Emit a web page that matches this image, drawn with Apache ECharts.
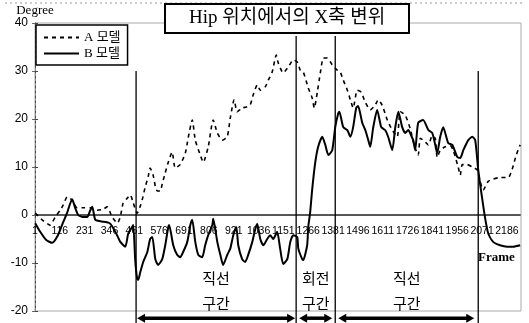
<!DOCTYPE html>
<html><head><meta charset="utf-8">
<script src="https://cdn.jsdelivr.net/npm/echarts@6/dist/echarts.min.js"></script>
<style>html,body{margin:0;padding:0;background:#fff}#c{width:529px;height:323px}</style>
</head><body><div id="c"></div>
<script>
const frameTicks = ['1','116','231','346','461','576','691','806','921','1036','1151','1266','1381','1496','1611','1726','1841','1956','2071','2186'];
const yTicks = [-20,-10,0,10,20,30,40];
const seriesNames = ['A 모델','B 모델'];

const aFrames = [1,33,70,94,117,131,149,172,195,223,256,288,316,334,357,381,395,408,427,441,455,473,487,496,510,524,533,547,557,566,580,589,603,617,635,649,672,696,709,728,742,765,779,802,825,844,867,890,904,922,936,959,978,996,1010,1029,1043,1066,1080,1098,1117,1126,1149,1172,1196,1214,1228,1242,1265,1283,1293,1307,1321,1335,1353,1376,1399,1413,1427,1446,1460,1473,1492,1510,1529,1552,1575,1589,1607,1631,1654,1677,1691,1714,1737,1756,1774,1784,1807,1821,1839,1853,1862,1876,1899,1922,1936,1959,1969,1978,2001,2024,2047,2061,2075,2098,2121,2153,2191,2209,2228,2246];
const aValues = [0.4,-1,-2.1,-0.4,1,2.1,3.8,3.1,1.5,1.5,1.5,1,1.2,1.7,-0.4,-1.7,-0.4,2.5,3.5,4.2,2.5,0.4,1.8,3.1,5.8,8,9.8,8.3,6,5,5,6.5,8.8,11,13.1,9.8,10.5,12.9,16,19.8,15.6,12.5,11,14.2,19.8,17.1,15.6,16.3,20.2,24,21.5,22.3,22.5,22.9,25,27.1,26,26.7,28.1,29.8,33.3,31.7,29.6,30.8,32.3,31.9,30.2,29.8,26.5,24.4,22.3,25.6,29.6,32.7,32.7,31.3,30.2,29.8,28.1,26,24,22.3,26,25.6,23.5,21.9,22.9,24,22.9,19.8,17.7,16.3,21.5,20.8,18,14.5,12.5,16,15.2,14.6,16.5,16,12,13.5,14.2,14.5,13.5,10,8.3,10.5,10.5,10,9.4,7,5.2,7,7.5,7.8,7.8,9.5,12.5,14.6];

const bFrames = [1,24,52,80,103,126,149,172,186,200,219,242,256,265,279,302,334,348,362,381,395,418,432,450,455,464,473,478,487,501,520,533,543,557,570,589,603,617,621,640,658,672,686,705,719,728,742,756,774,788,802,821,825,844,858,871,890,904,918,932,941,959,973,987,1006,1020,1029,1043,1057,1075,1089,1103,1121,1135,1149,1168,1182,1196,1214,1219,1237,1242,1260,1265,1274,1283,1297,1311,1330,1344,1358,1376,1390,1404,1409,1427,1446,1460,1473,1487,1496,1515,1529,1543,1552,1566,1584,1603,1621,1635,1654,1668,1682,1700,1714,1728,1742,1751,1760,1774,1797,1821,1839,1853,1862,1876,1890,1913,1932,1955,1969,1983,2006,2024,2038,2052,2070,2084,2098,2121,2153,2186,2214,2246];
const bValues = [-1.7,-3.5,-5.2,-5.8,-4.5,-2,0.5,3.3,1.5,0,-0.4,-0.4,1.0,1.7,-1,-1.3,-1.5,-1.8,-2.7,-4.3,-5.6,-6.6,-3.8,-2.5,-2.1,-9.4,-13.3,-13.5,-12,-9.8,-7.7,-5,-4.6,-9.2,-10.4,-9.2,-6.3,-2.5,-2.1,-6.3,-8.3,-8.8,-7.7,-5.6,-2.1,-1,-5.6,-8.3,-8.8,-6.3,-4.2,-2.1,-0.8,-5.6,-8.3,-10.4,-8.3,-7,-4.2,-2.5,-6.3,-9.2,-9.8,-8.3,-5.6,-2.9,-1.9,-5,-6.3,-5,-4.2,-5,-3.5,-7,-10.2,-9.2,-5.6,-4.2,-4.6,-7,-9.2,-9.4,-6.3,-2.5,0.6,5.2,10.8,14.2,16.3,14.6,12.5,13.5,18.3,21.2,21.5,18.3,17.7,16.3,18.3,22.3,22.7,19.2,17.7,15.6,14.2,18.3,21.9,18.3,17.7,16.3,13.5,18.3,21.5,18.3,17.1,17.7,16.5,15.6,13.5,19.2,19.8,17.7,17.1,14.6,12.9,16.3,18.3,15,14.6,12.1,11.9,13.5,15.6,16.3,15.6,9.4,3.5,-0.7,-3.8,-5.6,-6.3,-6.6,-6.6,-6.3];

const sectionFrames = [468, 1209, 1390, 2052];
const sectionTopValues = [30, 37.3, 37.3, 30];
const sectionLabels = ['직선\n구간', '회전\n구간', '직선\n구간'];

const serif = 'Liberation Serif, "Noto Sans CJK KR", serif';
const chart = echarts.init(document.getElementById('c'));
const zip = (xs, ys) => xs.map((x, i) => [x, ys[i]]);
const gridTop = 23, gridBottom = 12, gridH = 323 - gridTop - gridBottom;
const yMin = yTicks[0], yMax = yTicks[yTicks.length - 1];

chart.setOption({
  animation: false,
  backgroundColor: '#fff',
  title: {
    text: 'Hip 위치에서의 X축 변위', left: 165, top: 4,
    padding: [5, 24, 5, 24], borderColor: '#000', borderWidth: 2, backgroundColor: '#fff',
    textStyle: { fontSize: 19, fontWeight: 'normal', color: '#000', fontFamily: serif }
  },
  legend: {
    orient: 'vertical', left: 36, top: 25, itemWidth: 35, itemHeight: 14, itemGap: 3,
    padding: [6, 7, 5, 7], borderColor: '#000', borderWidth: 1.5, backgroundColor: '#fff',
    textStyle: { fontSize: 13, color: '#000', fontFamily: serif },
    itemStyle: { color: 'rgba(0,0,0,0)', borderWidth: 0, opacity: 0 },
    data: seriesNames
  },
  grid: { left: 35, right: 8, top: gridTop, bottom: gridBottom, show: true, borderColor: '#aaa', borderWidth: 1 },
  xAxis: {
    type: 'value', min: 0, max: 2250, interval: 115, position: 'bottom',
    offset: -gridH * (0 - yMin) / (yMax - yMin),
    axisLine: { onZero: false, lineStyle: { color: '#555', width: 2, type: [2, 1] } },
    axisTick: { show: false }, splitLine: { show: false },
    axisLabel: {
      margin: 11, fontSize: 10.5, color: '#000', fontFamily: 'Liberation Sans, Arial, sans-serif',
      formatter: v => (v % 115 === 0 && frameTicks[v / 115] !== undefined) ? frameTicks[v / 115] : ''
    }
  },
  yAxis: [{
    type: 'value', min: yMin, max: yMax, interval: 10,
    name: 'Degree', nameLocation: 'end', nameGap: 2,
    nameTextStyle: { fontSize: 13, color: '#000', fontFamily: serif, align: 'center' },
    axisLine: { show: true, onZero: false, lineStyle: { color: '#222', width: 1 } },
    axisTick: { show: true, inside: true, length: 3, lineStyle: { color: '#444' } },
    splitLine: { show: false },
    axisLabel: { margin: 7, fontSize: 12, color: '#000', fontFamily: 'Liberation Sans, Arial, sans-serif' }
  }, {
    type: 'value', min: yMin, max: yMax, interval: 10, position: 'right',
    axisLine: { show: true, lineStyle: { color: '#888', width: 1, type: [3, 2] } },
    axisTick: { show: true, inside: true, length: 3, lineStyle: { color: '#666' } },
    axisLabel: { show: false }, splitLine: { show: false }
  }],
  series: [{
    name: seriesNames[0], type: 'line', data: zip(aFrames, aValues), symbol: 'none', smooth: 0.2,
    lineStyle: { color: '#000', width: 1.6, type: [4, 4] }, itemStyle: { color: '#000' }, z: 3
  }, {
    name: seriesNames[1], type: 'line', data: zip(bFrames, bValues), symbol: 'none', smooth: 0.2,
    lineStyle: { color: '#000', width: 2 }, itemStyle: { color: '#000' }, z: 4
  }]
});

const px = (f, v) => chart.convertToPixel({ gridIndex: 0 }, [f, v]);
const g = [];
const bottomY = 323;
sectionFrames.forEach((f, i) => {
  const t = px(f, sectionTopValues[i]);
  g.push({ type: 'line', shape: { x1: t[0], y1: t[1], x2: t[0], y2: bottomY }, style: { stroke: '#000', lineWidth: 1.3 }, z: 50 });
});
const ay = px(0, -21.5)[1];
const arrow = (x1, x2) => {
  const h = 8, w = 4.5;
  g.push({ type: 'line', shape: { x1: x1 + h - 1, y1: ay, x2: x2 - h + 1, y2: ay }, style: { stroke: '#000', lineWidth: 3.5 }, z: 50 });
  g.push({ type: 'polygon', shape: { points: [[x1, ay], [x1 + h, ay - w], [x1 + h, ay + w]] }, style: { fill: '#000' }, z: 50 });
  g.push({ type: 'polygon', shape: { points: [[x2, ay], [x2 - h, ay - w], [x2 - h, ay + w]] }, style: { fill: '#000' }, z: 50 });
};
const sx = sectionFrames.map(f => px(f, 0)[0]);
arrow(sx[0] + 1, sx[1] - 1);
arrow(sx[1] + 3, sx[2] - 3);
arrow(sx[2] + 3, sx[3] - 4);
for (let i = 0; i < 3; i++) {
  const mx = (sx[i] + sx[i + 1]) / 2;
  const my = px(0, -15.8)[1];
  g.push({ type: 'text', x: mx, y: my, style: { text: sectionLabels[i], fill: '#000', font: '15px "Noto Sans CJK KR"', align: 'center', verticalAlign: 'middle', lineHeight: 25 }, z: 50 });
}
g.push({ type: 'text', x: 478, y: 258, style: { text: 'Frame', fill: '#000', font: 'bold 13px Liberation Serif', align: 'left', verticalAlign: 'middle' }, z: 50 });
g.push({ type: 'line', shape: { x1: 5, y1: 3, x2: 524, y2: 3 }, style: { stroke: '#999', lineWidth: 1, lineDash: [2, 3] }, z: 1 });
chart.setOption({ graphic: g });
</script>
</body></html>
